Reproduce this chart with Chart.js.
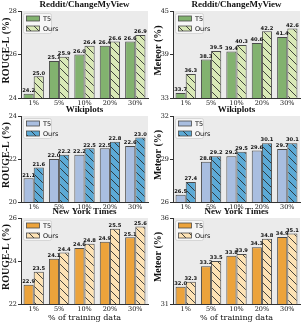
<!DOCTYPE html>
<html>
<head>
<meta charset="utf-8">
<script src="https://cdn.jsdelivr.net/npm/chart.js@4.4.1/dist/chart.umd.min.js"></script>
<style>
  html, body { margin: 0; padding: 0; background: #fff; }
  #wrap { position: relative; width: 307px; height: 326px; overflow: hidden; }
  #wrap canvas { position: absolute; }
</style>
</head>
<body>
<div id="wrap"></div>
<script>
const percentLabels = ["1%", "5%", "10%", "20%", "30%"];

const redditRougeT5 = [24.2, 25.7, 26.0, 26.4, 26.6];
const redditRougeOurs = [25.0, 25.9, 26.4, 26.6, 26.9];
const redditMeteorT5 = [33.7, 38.3, 39.4, 40.6, 41.4];
const redditMeteorOurs = [36.3, 39.5, 40.3, 42.2, 42.6];

const wikiRougeT5 = [21.1, 22.0, 22.2, 22.5, 22.6];
const wikiRougeOurs = [21.6, 22.2, 22.5, 22.8, 23.0];
const wikiMeteorT5 = [26.5, 28.8, 29.2, 29.6, 29.7];
const wikiMeteorOurs = [27.4, 29.2, 29.5, 30.1, 30.1];

const nytRougeT5 = [22.9, 24.1, 24.6, 24.9, 25.1];
const nytRougeOurs = [23.5, 24.4, 24.8, 25.5, 25.6];
const nytMeteorT5 = [32.0, 33.2, 33.8, 34.3, 34.9];
const nytMeteorOurs = [32.3, 33.5, 33.9, 34.8, 35.1];

const redditRougeTicks = [24, 26, 28];
const redditMeteorTicks = [33, 39, 45];
const wikiRougeTicks = [20, 22, 24];
const wikiMeteorTicks = [26, 29, 32];
const nytRougeTicks = [22, 24, 26];
const nytMeteorTicks = [31, 36];

const seriesNames = ["T5", "Ours"];

// colours per dataset row
const PALETTES = {
  green: { t5: "#82b26f", ours: "#d9e9b7" },
  blue: { t5: "#a9bee0", ours: "#5caad6" },
  orange: { t5: "#eca33b", ours: "#fde2b4" }
};

// page layout (pixels)
const ROWS = [
  { top: 0, h: 110, areaTop: 11, areaBottom: 98 },
  { top: 100, h: 112, areaTop: 16, areaBottom: 102 },
  { top: 204, h: 122, areaTop: 14, areaBottom: 100 }
];
const COLS = [
  { left: 0, w: 152, areaLeft: 21, areaRight: 148 },
  { left: 152, w: 155, areaLeft: 21, areaRight: 148 }
];

const EDGE = "#4a4a4a";
const TITLE_FONT = "bold 9px 'Liberation Serif'";
const YTITLE_FONT = "bold 10px 'Liberation Serif'";
const TICK_FONT = { family: "DejaVu Serif", size: 6.5 };

function hatch(bg) {
  const s = 8;
  const c = document.createElement("canvas");
  c.width = s; c.height = s;
  const g = c.getContext("2d");
  g.fillStyle = bg;
  g.fillRect(0, 0, s, s);
  g.strokeStyle = "#262626";
  g.lineWidth = 0.85;
  g.beginPath();
  g.moveTo(-1, -1); g.lineTo(s + 1, s + 1);
  g.moveTo(-1, s - 1); g.lineTo(1, s + 1);
  g.moveTo(s - 1, -1); g.lineTo(s + 1, 1);
  g.stroke();
  return g.createPattern(c, "repeat");
}

const panels = [
  { row: 0, col: 0, title: "Reddit/ChangeMyView", yTitle: "ROUGE-L (%)", t5: redditRougeT5, ours: redditRougeOurs, ticks: redditRougeTicks, pal: "green" },
  { row: 0, col: 1, title: "Reddit/ChangeMyView", yTitle: "Meteor (%)", t5: redditMeteorT5, ours: redditMeteorOurs, ticks: redditMeteorTicks, pal: "green" },
  { row: 1, col: 0, title: "Wikiplots", yTitle: "ROUGE-L (%)", t5: wikiRougeT5, ours: wikiRougeOurs, ticks: wikiRougeTicks, pal: "blue" },
  { row: 1, col: 1, title: "Wikiplots", yTitle: "Meteor (%)", t5: wikiMeteorT5, ours: wikiMeteorOurs, ticks: wikiMeteorTicks, pal: "blue" },
  { row: 2, col: 0, title: "New York Times", yTitle: "ROUGE-L (%)", t5: nytRougeT5, ours: nytRougeOurs, ticks: nytRougeTicks, pal: "orange", xTitle: "% of training data" },
  { row: 2, col: 1, title: "New York Times", yTitle: "Meteor (%)", t5: nytMeteorT5, ours: nytMeteorOurs, ticks: nytMeteorTicks, pal: "orange", xTitle: "% of training data" }
];

// background, titles, value labels and legend
const decor = {
  id: "decor",
  beforeDraw(chart, args, opts) {
    const { ctx, chartArea: a } = chart;
    ctx.save();
    ctx.fillStyle = "#ebebeb";
    ctx.fillRect(a.left, a.top, a.right - a.left, a.bottom - a.top);
    ctx.restore();
  },
  afterDraw(chart, args, opts) {
    const { ctx, chartArea: a } = chart;
    const p = opts.panel;
    ctx.save();
    ctx.fillStyle = "#111";

    // title
    ctx.font = TITLE_FONT;
    ctx.textAlign = "center";
    ctx.textBaseline = "middle";
    ctx.fillText(p.title, (a.left + a.right) / 2, a.top - 6.5);

    // y title
    ctx.save();
    ctx.font = YTITLE_FONT;
    ctx.translate(6, (a.top + a.bottom) / 2 - 4);
    ctx.rotate(-Math.PI / 2);
    ctx.fillText(p.yTitle, 0, 0);
    ctx.restore();

    // x title
    if (p.xTitle) {
      ctx.font = "8px 'DejaVu Serif'";
      ctx.fillText(p.xTitle, (a.left + a.right) / 2, a.bottom + 13.5);
    }

    // value labels
    ctx.font = "bold 5.2px 'DejaVu Sans'";
    ctx.textBaseline = "bottom";
    chart.data.datasets.forEach((ds, i) => {
      chart.getDatasetMeta(i).data.forEach((bar, j) => {
        ctx.fillText(ds.data[j].toFixed(1), bar.x, bar.y - 0.5);
      });
    });

    // legend
    const lx = a.left + 2, ly = a.top + 2, lw = 28, lh = 20;
    ctx.fillStyle = "rgba(255,255,255,0.55)";
    ctx.strokeStyle = "#cfcfcf";
    ctx.lineWidth = 0.8;
    ctx.beginPath();
    ctx.roundRect(lx + 0.5, ly + 0.5, lw, lh, 2);
    ctx.fill();
    ctx.stroke();
    ctx.font = "6.5px 'DejaVu Sans'";
    ctx.textAlign = "left";
    ctx.textBaseline = "middle";
    chart.data.datasets.forEach((ds, i) => {
      const cy = ly + 5.5 + i * 10;
      ctx.fillStyle = ds.backgroundColor;
      ctx.fillRect(lx + 3.5, cy - 2.5, 13, 5);
      ctx.strokeStyle = EDGE;
      ctx.lineWidth = 0.8;
      ctx.strokeRect(lx + 3.5, cy - 2.5, 13, 5);
      ctx.fillStyle = "#111";
      ctx.fillText(ds.label, lx + 20, cy + 0.5);
    });
    ctx.restore();
  }
};

const wrap = document.getElementById("wrap");

panels.forEach(p => {
  const r = ROWS[p.row], c = COLS[p.col];
  const canvas = document.createElement("canvas");
  canvas.width = c.w;
  canvas.height = r.h;
  canvas.style.left = c.left + "px";
  canvas.style.top = r.top + "px";
  wrap.appendChild(canvas);

  const pal = PALETTES[p.pal];
  const xHeight = r.h - r.areaBottom;

  new Chart(canvas.getContext("2d"), {
    type: "bar",
    data: {
      labels: percentLabels,
      datasets: [
        { label: seriesNames[0], data: p.t5, backgroundColor: pal.t5, borderColor: EDGE, borderWidth: 1 },
        { label: seriesNames[1], data: p.ours, backgroundColor: hatch(pal.ours), borderColor: EDGE, borderWidth: 1 }
      ]
    },
    options: {
      responsive: false,
      animation: false,
      devicePixelRatio: 1,
      layout: { padding: { top: r.areaTop, right: c.w - c.areaRight, left: 0, bottom: 0 } },
      datasets: { bar: { categoryPercentage: 0.8, barPercentage: 1.0 } },
      plugins: {
        legend: { display: false },
        tooltip: { enabled: false },
        decor: { panel: p }
      },
      scales: {
        x: {
          offset: true,
          grid: { display: false, drawTicks: false },
          border: { display: true, color: "#333", width: 1 },
          ticks: { color: "#111", font: TICK_FONT, padding: 1.5, maxRotation: 0 },
          afterFit: s => { s.height = xHeight; }
        },
        y: {
          min: p.ticks[0],
          max: p.ticks[p.ticks.length - 1],
          afterBuildTicks: s => { s.ticks = p.ticks.map(v => ({ value: v })); },
          grid: { display: true, drawOnChartArea: false, drawTicks: true, tickLength: 3, color: "#333" },
          border: { display: true, color: "#333", width: 1 },
          ticks: { color: "#111", font: TICK_FONT, padding: 1 },
          afterFit: s => { s.width = c.areaLeft; }
        }
      }
    },
    plugins: [decor]
  });
});
</script>
</body>
</html>
